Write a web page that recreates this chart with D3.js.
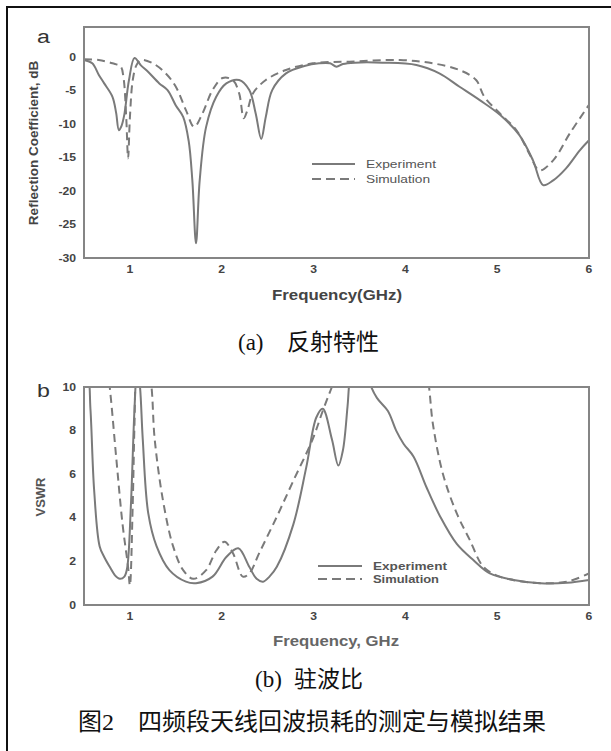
<!DOCTYPE html>
<html>
<head>
<meta charset="utf-8">
<script src="https://cdn.jsdelivr.net/npm/d3@7"></script>
<style>
  body { margin: 0; background: #fff; }
  svg { display: block; }
</style>
</head>
<body>
<div id="chart"></div>
<script>
// panel (a): reflection coefficient, [GHz, dB]
const reflExperiment = [[0.5,-0.4],[0.59,-0.9],[0.66,-2.6],[0.72,-3.9],[0.81,-5.9],[0.85,-8.3],[0.88,-10.9],[0.91,-10.2],[0.94,-8.5],[0.99,-3.4],[1.05,-0.1],[1.12,-1.2],[1.2,-2.2],[1.32,-3.9],[1.41,-4.9],[1.5,-7.2],[1.58,-8.9],[1.64,-12.5],[1.68,-18.4],[1.72,-27.8],[1.76,-18.4],[1.83,-10.4],[1.94,-5.9],[2.05,-3.9],[2.19,-3.4],[2.3,-4.9],[2.37,-8.4],[2.43,-12.2],[2.48,-8.9],[2.55,-4.9],[2.7,-2.4],[2.9,-1.3],[3.06,-0.9],[3.18,-0.9],[3.25,-1.4],[3.32,-1.0],[3.45,-0.8],[3.75,-0.8],[4.12,-1.15],[4.37,-2.4],[4.59,-4.4],[4.81,-6.4],[5.03,-8.6],[5.24,-11.6],[5.39,-15.4],[5.5,-19.1],[5.61,-18.4],[5.75,-16.6],[5.9,-13.9],[6.0,-12.4]];
const reflSimulation = [[0.5,-0.3],[0.66,-0.4],[0.81,-0.9],[0.9,-1.4],[0.93,-3],[0.96,-9],[0.98,-15.1],[1.0,-9],[1.03,-3.5],[1.07,-1.2],[1.12,-0.4],[1.25,-0.9],[1.39,-2.4],[1.5,-4.4],[1.61,-7.9],[1.7,-10.4],[1.79,-8.4],[1.9,-4.9],[2.01,-3.1],[2.12,-3.4],[2.19,-5.4],[2.24,-9.1],[2.28,-7.9],[2.34,-5.4],[2.48,-3.4],[2.7,-1.9],[2.99,-0.9],[3.39,-0.65],[3.94,-0.4],[4.3,-0.9],[4.59,-1.9],[4.77,-3.4],[4.86,-5.9],[5.03,-8.4],[5.21,-10.9],[5.35,-14.4],[5.46,-16.9],[5.61,-15.4],[5.79,-11.4],[6.0,-7.1]];

// panel (b): VSWR, [GHz, ratio]  (values above 10 are clipped by the frame)
const vswrExperiment = [[0.49,8.6],[0.51,10.5],[0.54,10.5],[0.57,9.0],[0.61,5.3],[0.67,2.7],[0.72,2.2],[0.78,1.75],[0.84,1.35],[0.89,1.2],[0.94,1.3],[0.97,1.7],[1.01,4.5],[1.05,9.0],[1.08,11],[1.11,10],[1.14,7.6],[1.2,4.2],[1.29,2.7],[1.43,1.6],[1.61,1.07],[1.72,1.0],[1.9,1.3],[2.05,2.2],[2.18,2.6],[2.3,1.75],[2.38,1.2],[2.45,1.07],[2.52,1.3],[2.6,1.75],[2.78,3.7],[2.92,6.3],[3.03,8.6],[3.1,9.0],[3.2,7.6],[3.27,6.4],[3.32,7.1],[3.37,9.1],[3.4,10.5],[3.5,12],[3.6,10.3],[3.69,9.5],[3.81,8.9],[3.9,8.0],[3.98,7.4],[4.09,6.8],[4.23,5.4],[4.38,4.05],[4.56,2.8],[4.74,2.06],[4.92,1.45],[5.18,1.15],[5.47,1.0],[5.76,1.02],[6.0,1.15]];
const vswrSimulation = [[0.72,12],[0.78,10],[0.85,6.8],[0.92,3.7],[0.98,1.75],[1.0,0.9],[1.03,4.5],[1.05,8.3],[1.07,10.5],[1.15,12],[1.23,10.2],[1.27,7.6],[1.36,4.8],[1.47,2.7],[1.58,1.6],[1.69,1.2],[1.83,1.6],[1.94,2.5],[2.03,2.9],[2.12,2.4],[2.23,1.3],[2.3,1.45],[2.41,2.4],[2.6,4.05],[2.78,5.7],[2.99,7.6],[3.1,8.9],[3.2,10],[3.3,11],[3.6,13],[3.9,13],[4.2,11],[4.25,10.2],[4.3,8.3],[4.41,6.0],[4.56,4.2],[4.7,3.0],[4.85,1.75],[5.03,1.3],[5.39,1.02],[5.76,1.07],[6.0,1.45]];

const freqTicks = [1, 2, 3, 4, 5, 6];
const reflTicks = [0, -5, -10, -15, -20, -25, -30];
const vswrTicks = [0, 2, 4, 6, 8, 10];
const seriesNames = ["Experiment", "Simulation"];

const W = 611, H = 751;
const sans = "'Liberation Sans', Arial, sans-serif";
const cjk = "'Noto Sans CJK SC', sans-serif";
const serif = "'Liberation Serif', 'Times New Roman', serif";
const lineColor = "#7a7a7a";
const stretch = 1.22; // the scanned plots are a little wider than tall

const svg = d3.select("#chart").append("svg")
    .attr("width", W)
    .attr("height", H);

// outer frame (runs off the right and bottom edge)
svg.append("path")
    .attr("d", `M7,${H + 5}V7H${W + 5}`)
    .attr("fill", "none")
    .attr("stroke", "#111")
    .attr("stroke-width", 2);

function drawPanel(opts) {
    const { left, right, top, bottom, yDomain, yTicks, exp, sim, id } = opts;

    const x = d3.scaleLinear().domain([0.5, 6]).range([left, right]);
    const y = d3.scaleLinear().domain(yDomain).range([bottom, top]);

    svg.append("clipPath").attr("id", id)
        .append("rect")
        .attr("x", left).attr("y", top)
        .attr("width", right - left).attr("height", bottom - top);

    const line = d3.line()
        .x(d => x(d[0]))
        .y(d => y(d[1]))
        .curve(d3.curveCatmullRom.alpha(0.5));

    const g = svg.append("g").attr("clip-path", `url(#${id})`);
    g.append("path")
        .attr("d", line(sim))
        .attr("fill", "none")
        .attr("stroke", lineColor)
        .attr("stroke-width", 2)
        .attr("stroke-dasharray", "8,5");
    g.append("path")
        .attr("d", line(exp))
        .attr("fill", "none")
        .attr("stroke", lineColor)
        .attr("stroke-width", 2);

    // plot box
    svg.append("rect")
        .attr("x", left).attr("y", top)
        .attr("width", right - left).attr("height", bottom - top)
        .attr("fill", "none")
        .attr("stroke", "#858585")
        .attr("stroke-width", 2);

    // tick labels only, the original has no tick marks
    svg.append("g").selectAll("text")
        .data(freqTicks)
        .join("text")
        .attr("transform", d => `translate(${x(d)},${bottom + 15}) scale(${stretch},1)`)
        .attr("text-anchor", "middle")
        .attr("font-family", sans)
        .attr("font-size", 10)
        .attr("font-weight", "bold")
        .attr("fill", "#444")
        .text(d => d);

    svg.append("g").selectAll("text")
        .data(yTicks)
        .join("text")
        .attr("transform", d => `translate(${left - 8},${y(d) + 3.5}) scale(${stretch},1)`)
        .attr("text-anchor", "end")
        .attr("font-family", sans)
        .attr("font-size", 10)
        .attr("font-weight", "bold")
        .attr("fill", "#444")
        .text(d => d);

    return { x, y };
}

function legend(x0, y0, dy, lineLen, bold, width, color) {
    const leg = svg.append("g").selectAll("g")
        .data(seriesNames)
        .join("g")
        .attr("transform", (d, i) => `translate(${x0},${y0 + i * dy})`);
    leg.append("line")
        .attr("x1", 0).attr("x2", lineLen)
        .attr("stroke", lineColor).attr("stroke-width", 2)
        .attr("stroke-dasharray", (d, i) => i ? "9,5" : null);
    leg.append("text")
        .attr("x", lineLen + 11).attr("y", 4)
        .attr("font-family", sans).attr("font-size", 11)
        .attr("font-weight", bold ? "bold" : null)
        .attr("textLength", (d, i) => width[i])
        .attr("lengthAdjust", "spacingAndGlyphs")
        .attr("fill", color)
        .text(d => d);
}

// ---- panel a
const pa = drawPanel({
    id: "clipA", left: 84, right: 589, top: 27, bottom: 258,
    yDomain: [-30, 4.53], yTicks: reflTicks,
    exp: reflExperiment, sim: reflSimulation
});

svg.append("text")
    .attr("transform", `translate(37,43) scale(${stretch},1)`)
    .attr("font-family", sans).attr("font-size", 19)
    .attr("fill", "#333")
    .text("a");

svg.append("text")
    .attr("transform", "translate(38,143) rotate(-90)")
    .attr("text-anchor", "middle")
    .attr("font-family", sans).attr("font-size", 13.5).attr("font-weight", "bold")
    .attr("fill", "#444")
    .text("Reflection Coefficient, dB");

svg.append("text")
    .attr("x", 337).attr("y", 300)
    .attr("text-anchor", "middle")
    .attr("font-family", sans).attr("font-size", 14).attr("font-weight", "bold")
    .attr("textLength", 130).attr("lengthAdjust", "spacingAndGlyphs")
    .attr("fill", "#444")
    .text("Frequency(GHz)");

legend(312, 164, 15, 43, false, [70, 64], "#555");

// ---- panel b
const pb = drawPanel({
    id: "clipB", left: 84, right: 589, top: 387, bottom: 605,
    yDomain: [0, 10], yTicks: vswrTicks,
    exp: vswrExperiment, sim: vswrSimulation
});

svg.append("text")
    .attr("transform", `translate(37,397) scale(${stretch},1)`)
    .attr("font-family", sans).attr("font-size", 19)
    .attr("fill", "#333")
    .text("b");

svg.append("text")
    .attr("transform", "translate(45,497) rotate(-90)")
    .attr("text-anchor", "middle")
    .attr("font-family", sans).attr("font-size", 13).attr("font-weight", "bold")
    .attr("fill", "#555")
    .text("VSWR");

svg.append("text")
    .attr("x", 336).attr("y", 646)
    .attr("text-anchor", "middle")
    .attr("font-family", sans).attr("font-size", 14).attr("font-weight", "bold")
    .attr("textLength", 126).attr("lengthAdjust", "spacingAndGlyphs")
    .attr("fill", "#666")
    .text("Frequency, GHz");

legend(318, 566, 13, 44, true, [74, 66], "#555");

// ---- captions
function caption(label, cn, xLabel, xCn, yBase, size) {
    svg.append("text")
        .attr("x", xLabel).attr("y", yBase)
        .attr("font-family", serif).attr("font-size", size)
        .attr("fill", "#111")
        .text(label);
    svg.append("text")
        .attr("x", xCn).attr("y", yBase)
        .attr("font-family", cjk).attr("font-size", size)
        .attr("fill", "#111")
        .text(cn);
}
caption("(a)", "反射特性", 238, 287, 350, 23);
caption("(b)", "驻波比", 255, 294, 687, 23);

svg.append("text")
    .attr("x", 78).attr("y", 730)
    .attr("font-family", cjk).attr("font-size", 24)
    .attr("fill", "#111")
    .text("图")
  .append("tspan")
    .attr("font-family", serif)
    .text("2");
svg.append("text")
    .attr("x", 138).attr("y", 730)
    .attr("font-family", cjk).attr("font-size", 24)
    .attr("fill", "#111")
    .text("四频段天线回波损耗的测定与模拟结果");
</script>
</body>
</html>
